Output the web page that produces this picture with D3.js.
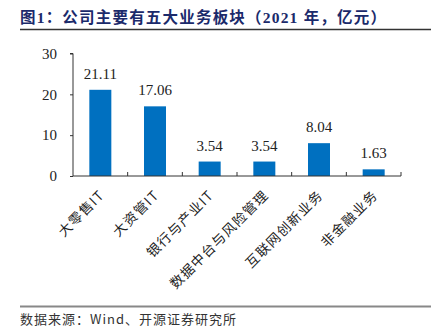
<!DOCTYPE html>
<html><head><meta charset="utf-8">
<script src="https://cdn.jsdelivr.net/npm/d3@7"></script>
<style>body{margin:0;background:#fff;}svg{display:block;}</style>
</head><body>
<svg id="c" width="437" height="334"></svg>
<script>
const categories = ["大零售IT","大资管IT","银行与产业IT","数据中台与风险管理","互联网创新业务","非金融业务"];
const values = [21.11, 17.06, 3.54, 3.54, 8.04, 1.63];
const yTicks = [0, 10, 20, 30];
const title = "图1：公司主要有五大业务板块（2021 年，亿元）";
const source = "数据来源：Wind、开源证券研究所";

const svg = d3.select("#c");
const serif = "'Liberation Serif','Times New Roman',serif";
const cjk = "'Noto Sans CJK SC','Liberation Serif',serif";

svg.append("text").attr("x", 20).attr("y", 23)
  .attr("font-family", "'Liberation Serif','Noto Sans CJK SC',serif")
  .attr("font-weight", "bold").attr("font-size", 15.5).attr("fill", "#1b2a6b")
  .attr("letter-spacing", 1.2)
  .text(title);
svg.append("line").attr("x1", 20).attr("x2", 431).attr("y1", 29.5).attr("y2", 29.5)
  .attr("stroke", "#333").attr("stroke-width", 1.3);

const xTickScale = d3.scaleBand().domain(categories).range([73, 401]);
const y = d3.scaleLinear().domain([0, 30]).range([176, 53.5]);

// y axis
const ya = svg.append("g").attr("transform", "translate(73,0)")
  .call(d3.axisLeft(y).tickValues(yTicks).tickSize(3).tickPadding(13).tickFormat(d3.format("d")));
ya.select(".domain").attr("d", `M-3,${y(30)}H0V${y(0)}`).attr("stroke", "#333");
ya.selectAll("line").attr("stroke", "#333");
ya.selectAll("text").attr("font-family", serif).attr("font-size", 15).attr("fill", "#222");

// bars
svg.selectAll("rect.bar").data(values).enter().append("rect")
  .attr("class", "bar")
  .attr("x", (d, i) => xTickScale(categories[i]) + xTickScale.bandwidth()/2 - 11)
  .attr("width", 22)
  .attr("y", d => y(d))
  .attr("height", d => y(0) - y(d))
  .attr("fill", "#0070c0");

svg.selectAll("text.val").data(values).enter().append("text")
  .attr("class", "val")
  .attr("x", (d, i) => xTickScale(categories[i]) + xTickScale.bandwidth()/2)
  .attr("y", d => y(d) - 11)
  .attr("text-anchor", "middle")
  .attr("font-family", serif).attr("font-size", 15).attr("fill", "#222")
  .text(d => d.toFixed(2));

// x axis
const xa = svg.append("g").attr("transform", `translate(0,${y(0)})`)
  .call(d3.axisBottom(xTickScale).tickSize(0).tickFormat(""));
xa.select(".domain").attr("d", "M73,0H401V-4").attr("stroke", "#333");
const bounds = categories.map(c => xTickScale(c)).concat([401]);
xa.selectAll("line.sep").data(bounds.slice(1, -1)).enter().append("line")
  .attr("class", "sep").attr("x1", d => d).attr("x2", d => d).attr("y1", 0).attr("y2", -4)
  .attr("stroke", "#333");

svg.selectAll("text.cat").data(categories).enter().append("text")
  .attr("class", "cat")
  .attr("transform", d => `translate(${xTickScale(d) + xTickScale.bandwidth()/2 + 5},${y(0) + 20}) rotate(-45)`)
  .attr("text-anchor", "end")
  .attr("font-family", cjk).attr("font-size", 13.5).attr("fill", "#222")
  .attr("letter-spacing", 1.2)
  .text(d => d);

svg.append("line").attr("x1", 20).attr("x2", 431).attr("y1", 306.5).attr("y2", 306.5)
  .attr("stroke", "#888").attr("stroke-width", 2);
svg.append("text").attr("x", 20).attr("y", 324)
  .attr("font-family", "'Noto Sans CJK SC','Liberation Serif',serif")
  .attr("font-size", 13).attr("fill", "#333").attr("letter-spacing", 1)
  .text(source);
</script>
</body></html>
